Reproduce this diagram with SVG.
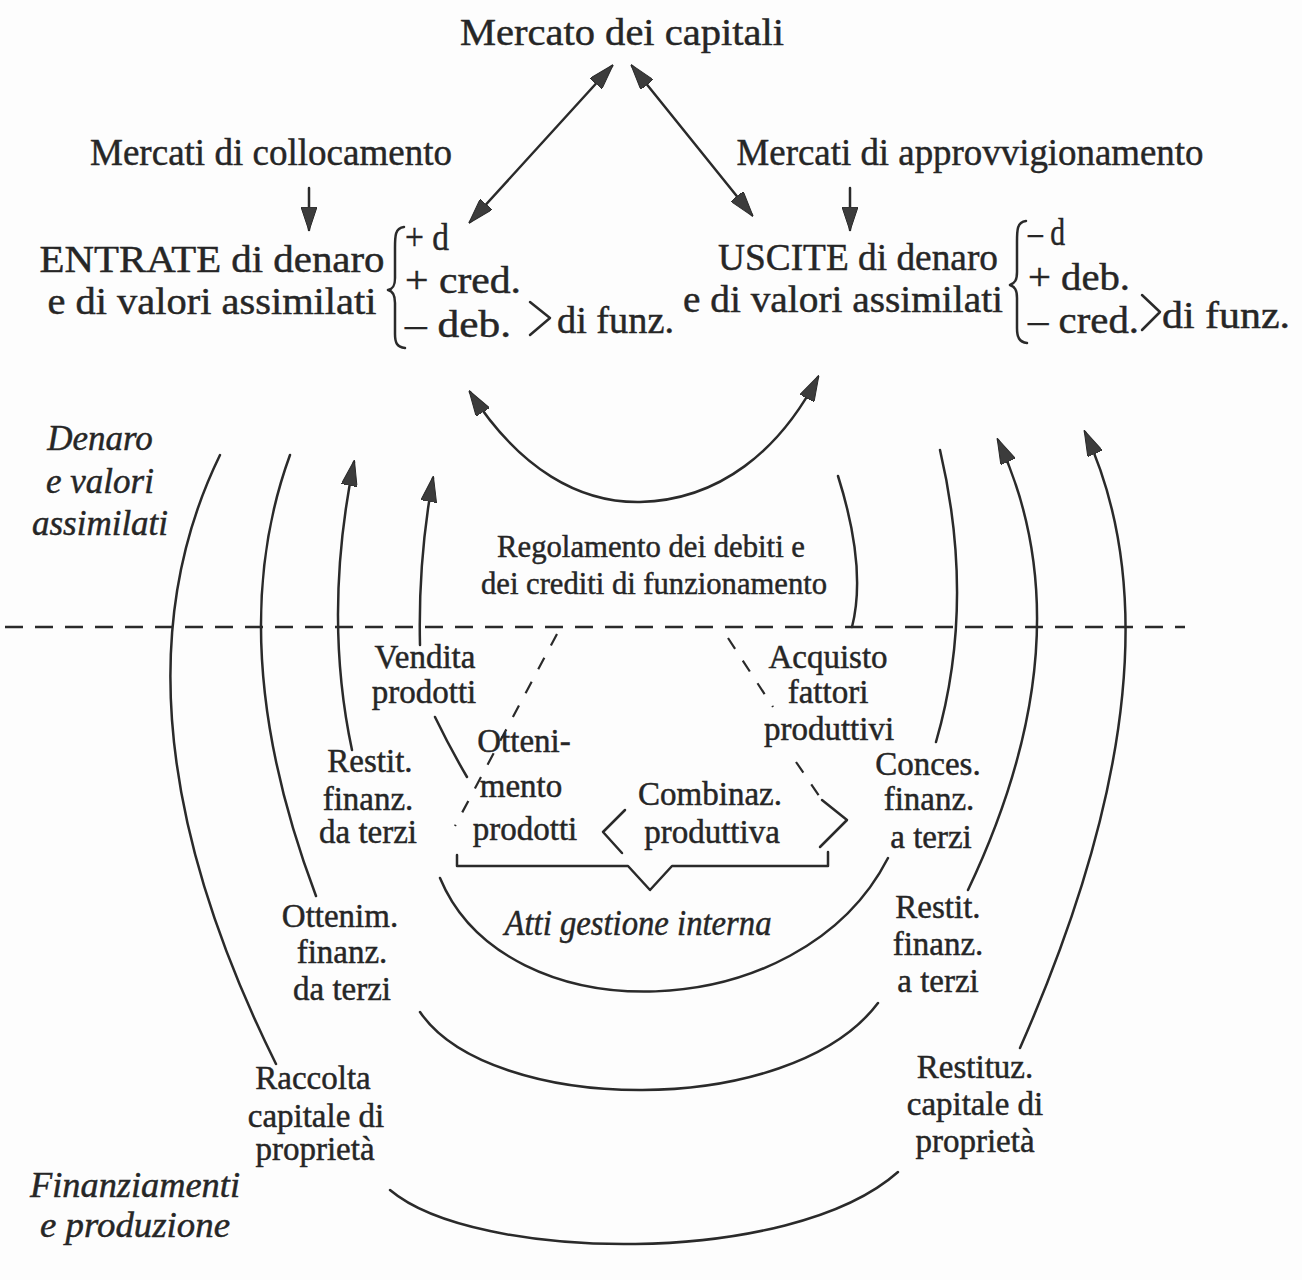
<svg xmlns="http://www.w3.org/2000/svg" width="1302" height="1280" viewBox="0 0 1302 1280">
<defs>
<style>
text{font-family:"Liberation Serif","Times New Roman",serif;fill:#262626;stroke:#262626;stroke-width:0.45;}
.a{font-size:38px;}
.b{font-size:33px;}
.r{font-size:32px;}
.it{font-style:italic;font-size:35px;}
.m{text-anchor:middle;}
.ln{fill:none;stroke:#2a2a2a;stroke-width:2.5;stroke-linecap:round;stroke-linejoin:round;}
.ar{marker-end:url(#ah);}
.ar2{marker-start:url(#ah);marker-end:url(#ah);}
.dn{marker-end:url(#ahs);}
.dsh{fill:none;stroke:#2a2a2a;stroke-width:2.6;stroke-dasharray:18 12;}
.dd{fill:none;stroke:#2a2a2a;stroke-width:2.2;stroke-dasharray:13 14;}
</style>
<marker id="ah" viewBox="0 0 26 16" refX="24" refY="8" markerWidth="26" markerHeight="16" markerUnits="userSpaceOnUse" orient="auto-start-reverse"><path d="M0,0 L26,8 L0,16 z" fill="#3c3c3c" stroke="#2a2a2a" stroke-width="1"/></marker>
<marker id="ahs" viewBox="0 0 24 16" refX="23" refY="8" markerWidth="24" markerHeight="16" markerUnits="userSpaceOnUse" orient="auto"><path d="M0,0 L24,8 L0,16 z" fill="#3c3c3c" stroke="#2a2a2a" stroke-width="1"/></marker>
</defs>
<rect width="1302" height="1280" fill="#fdfdfd"/>

<g id="connectors">
<path class="ln ar2" d="M612,66 L470,222"/>
<path class="ln ar2" d="M632,66 L752,215"/>
<path class="ln dn" d="M309,188 L309,230"/>
<path class="ln dn" d="M850,188 L850,230"/>
<path class="ln ar2" d="M470,392 C520,470 580,503 640,502 C720,500 780,450 818,377"/>
<path class="ln" d="M220,455 Q98,705 276,1064"/>
<path class="ln" d="M290,455 Q221,644 316,896"/>
<path class="ln ar" d="M352,750 Q323,614 354,462"/>
<path class="ln ar" d="M420,645 Q418,560 433,478"/>
<path class="ln" d="M435,717 Q450,748 467,777"/>
<path class="ln" d="M838,476 Q867,568 852,627"/>
<path class="ln" d="M940,450 Q976,604 936,742"/>
<path class="ln ar" d="M968,890 Q1089,635 998,440"/>
<path class="ln ar" d="M1020,1048 Q1191,660 1085,432"/>
<path class="ln" d="M390,1190 C475,1262 790,1268 898,1172"/>
<path class="ln" d="M420,1012 C490,1115 790,1120 878,1003"/>
<path class="ln" d="M440,878 C505,1035 800,1030 888,858"/>
<path class="dsh" d="M5,627 L1185,627"/>
<path class="dd" d="M557,634 L455,826"/>
<path class="dd" d="M728,638 L773,707"/>
<path class="dd" d="M796,762 L822,800"/>
<path class="ln" d="M822,800 L847,820 L820,847"/>
<path class="ln" d="M625,810 L603,832 L622,853"/>
<path class="ln" d="M457,855 L457,866 L628,866 L650,890 L672,866 L828,866 L828,852"/>
<path class="ln" d="M404,227 C395,228 395,236 395,248 L395,278 C395,286 393,289 388,290 C393,291 395,295 395,303 L395,334 C395,343 397,347 405,348"/>
<path class="ln" d="M530,302 L550,318 L530,335"/>
<path class="ln" d="M1026,221 C1017,222 1017,230 1017,242 L1017,272 C1017,280 1015,283 1010,285 C1015,287 1017,290 1017,298 L1017,328 C1017,337 1019,342 1027,343"/>
<path class="ln" d="M1142,295 L1160,312 L1142,330"/>
</g>

<g id="n-mercato-capitali"><text class="a m" x="622" y="45" textLength="324" lengthAdjust="spacingAndGlyphs">Mercato dei capitali</text></g>
<g id="n-collocamento"><text class="a m" x="271" y="165" textLength="362" lengthAdjust="spacingAndGlyphs">Mercati di collocamento</text></g>
<g id="n-approvvigionamento"><text class="a m" x="970" y="165" textLength="467" lengthAdjust="spacingAndGlyphs">Mercati di approvvigionamento</text></g>
<g id="n-entrate">
<text class="a m" x="212" y="272" textLength="345" lengthAdjust="spacingAndGlyphs">ENTRATE di denaro</text>
<text class="a m" x="212" y="314" textLength="329" lengthAdjust="spacingAndGlyphs">e di valori assimilati</text>
<text class="a" x="405" y="250" textLength="44" lengthAdjust="spacingAndGlyphs">+ d</text>
<text class="a" x="405" y="293" textLength="116" lengthAdjust="spacingAndGlyphs">+ cred.</text>
<text class="a" x="405" y="337" textLength="106" lengthAdjust="spacingAndGlyphs">– deb.</text>
<text class="a" x="557" y="333" textLength="117" lengthAdjust="spacingAndGlyphs">di funz.</text>
</g>
<g id="n-uscite">
<text class="a m" x="858" y="270" textLength="280" lengthAdjust="spacingAndGlyphs">USCITE di denaro</text>
<text class="a m" x="843" y="312" textLength="320" lengthAdjust="spacingAndGlyphs">e di valori assimilati</text>
<text class="a" x="1028" y="245" textLength="37" lengthAdjust="spacingAndGlyphs">– d</text>
<text class="a" x="1028" y="290" textLength="102" lengthAdjust="spacingAndGlyphs">+ deb.</text>
<text class="a" x="1028" y="333" textLength="111" lengthAdjust="spacingAndGlyphs">– cred.</text>
<text class="a" x="1162" y="328" textLength="128" lengthAdjust="spacingAndGlyphs">di funz.</text>
</g>
<g id="n-denaro"><text class="it m" x="100" y="450">Denaro</text><text class="it m" x="100" y="493">e valori</text><text class="it m" x="100" y="535">assimilati</text></g>
<g id="n-regolamento"><text class="r m" x="651" y="557" textLength="308" lengthAdjust="spacingAndGlyphs">Regolamento dei debiti e</text><text class="r m" x="654" y="594" textLength="346" lengthAdjust="spacingAndGlyphs">dei crediti di funzionamento</text></g>
<g id="n-vendita"><text class="b m" x="425" y="668">Vendita</text><text class="b m" x="424" y="703">prodotti</text></g>
<g id="n-acquisto"><text class="b m" x="828" y="668">Acquisto</text><text class="b m" x="828" y="703">fattori</text><text class="b m" x="829" y="740">produttivi</text></g>
<g id="n-ottenimento"><text class="b m" x="524" y="752">Otteni-</text><text class="b m" x="521" y="797">mento</text><text class="b m" x="525" y="840">prodotti</text></g>
<g id="n-combinaz"><text class="b m" x="710" y="805">Combinaz.</text><text class="b m" x="712" y="843">produttiva</text></g>
<g id="n-restit-da"><text class="b m" x="370" y="772">Restit.</text><text class="b m" x="368" y="810">finanz.</text><text class="b m" x="368" y="843">da terzi</text></g>
<g id="n-conces"><text class="b m" x="928" y="775">Conces.</text><text class="b m" x="929" y="810">finanz.</text><text class="b m" x="931" y="848">a terzi</text></g>
<g id="n-atti"><text class="it m" x="638" y="935" textLength="267" lengthAdjust="spacingAndGlyphs">Atti gestione interna</text></g>
<g id="n-ottenim"><text class="b m" x="340" y="927">Ottenim.</text><text class="b m" x="342" y="963">finanz.</text><text class="b m" x="342" y="1000">da terzi</text></g>
<g id="n-restit-a"><text class="b m" x="938" y="918">Restit.</text><text class="b m" x="938" y="955">finanz.</text><text class="b m" x="938" y="992">a terzi</text></g>
<g id="n-raccolta"><text class="b m" x="313" y="1089">Raccolta</text><text class="b m" x="316" y="1127">capitale di</text><text class="b m" x="315" y="1160">proprietà</text></g>
<g id="n-restituz"><text class="b m" x="975" y="1078">Restituz.</text><text class="b m" x="975" y="1115">capitale di</text><text class="b m" x="975" y="1152">proprietà</text></g>
<g id="n-finanziamenti"><text class="it m" x="135" y="1197" textLength="210" lengthAdjust="spacingAndGlyphs">Finanziamenti</text><text class="it m" x="135" y="1237" textLength="190" lengthAdjust="spacingAndGlyphs">e produzione</text></g>
</svg>
